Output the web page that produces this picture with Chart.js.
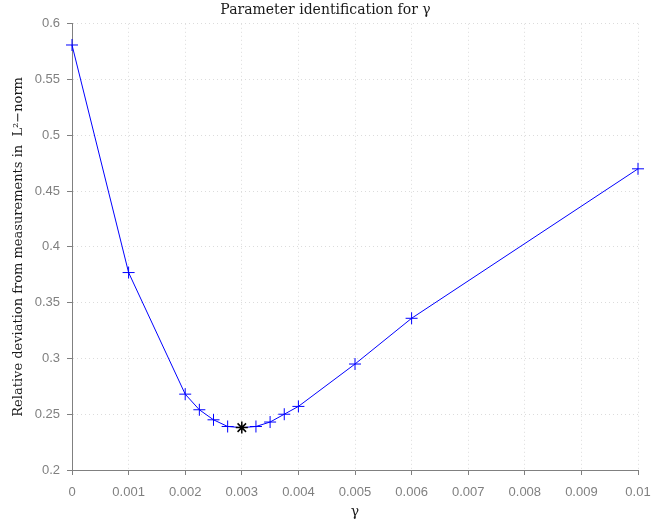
<!DOCTYPE html>
<html><head><meta charset="utf-8">
<script src="https://cdn.jsdelivr.net/npm/chart.js@4/dist/chart.umd.min.js"></script>
<style>html,body{margin:0;padding:0;background:#fff}#wrap{width:651px;height:519px}</style>
</head><body><div id="wrap"><canvas id="c" width="651" height="519"></canvas></div>
<script>
const gammaValues = [0, 0.001, 0.002, 0.00225, 0.0025, 0.00275, 0.003, 0.00325, 0.0035, 0.00375, 0.004, 0.005, 0.006, 0.01];
const deviation   = [0.581, 0.377, 0.268, 0.254, 0.245, 0.239, 0.238, 0.239, 0.243, 0.250, 0.257, 0.295, 0.336, 0.470];
const xTicks = [0, 0.001, 0.002, 0.003, 0.004, 0.005, 0.006, 0.007, 0.008, 0.009, 0.01];
const xTickLabels = ['0','0.001','0.002','0.003','0.004','0.005','0.006','0.007','0.008','0.009','0.01'];
const yTicks = [0.2, 0.25, 0.3, 0.35, 0.4, 0.45, 0.5, 0.55, 0.6];
const yTickLabels = ['0.2','0.25','0.3','0.35','0.4','0.45','0.5','0.55','0.6'];
const titleText = 'Parameter identification for \u03B3';
const xTitle = '\u03B3';
const yTitle = 'Relative deviation from measurements in  L\u00B2\u2212norm';

const minIdx = deviation.indexOf(Math.min(...deviation));
const points = gammaValues.map((g, i) => ({x: g, y: deviation[i]}));
const tickFont = {family: 'Liberation Sans', size: 13};

new Chart(document.getElementById('c'), {
  type: 'scatter',
  data: {datasets: [{
    data: points,
    showLine: true,
    clip: false,
    borderColor: '#0000ff',
    borderWidth: 1,
    backgroundColor: '#0000ff',
    pointStyle: ctx => ctx.dataIndex === minIdx ? 'star' : 'cross',
    pointBorderColor: ctx => ctx.dataIndex === minIdx ? '#000000' : '#0000ff',
    pointRadius: 6,
    pointBorderWidth: ctx => ctx.dataIndex === minIdx ? 1.5 : 1,
    pointHoverRadius: 6
  }]},
  options: {
    responsive: false,
    animation: false,
    layout: {padding: {left: 0, right: 0, top: 0, bottom: 0}},
    plugins: {
      legend: {display: false},
      tooltip: {enabled: false},
      title: {display: true, text: titleText, color: '#1a1a1a',
              font: {family: 'DejaVu Serif', size: 14, weight: 'normal'}, padding: {top: 2, bottom: 5}}
    },
    scales: {
      x: {
        type: 'linear', min: 0, max: 0.01,
        afterBuildTicks: s => { s.ticks = xTicks.map(v => ({value: v})); },
        afterFit: s => { s.height = 49; s.paddingRight = 13; s.paddingLeft = 0; },
        ticks: {color: '#808080', font: tickFont, padding: 10, maxRotation: 0,
                callback: (v, i) => xTickLabels[i]},
        grid: {color: '#dcdcdc', tickColor: '#808080', tickLength: 5, tickBorderDash: []},
        border: {display: true, color: '#808080', width: 1, dash: [1, 3]},
        title: {display: true, text: xTitle, color: '#1a1a1a',
                font: {family: 'DejaVu Serif', size: 14, lineHeight: 1}, padding: {top: 0, bottom: 0}}
      },
      y: {
        type: 'linear', min: 0.2, max: 0.6,
        afterBuildTicks: s => { s.ticks = yTicks.map(v => ({value: v})); },
        afterFit: s => { s.width = 72; },
        ticks: {color: '#808080', font: tickFont, padding: 7,
                callback: (v, i) => yTickLabels[i]},
        grid: {color: '#dcdcdc', tickColor: '#808080', tickLength: 5, tickBorderDash: []},
        border: {display: true, color: '#808080', width: 1, dash: [1, 3]},
        title: {display: true, text: yTitle, color: '#1a1a1a',
                font: {family: 'DejaVu Serif', size: 13, lineHeight: 1}, padding: {top: 12, bottom: 0}}
      }
    }
  }
});
</script>
</body></html>
